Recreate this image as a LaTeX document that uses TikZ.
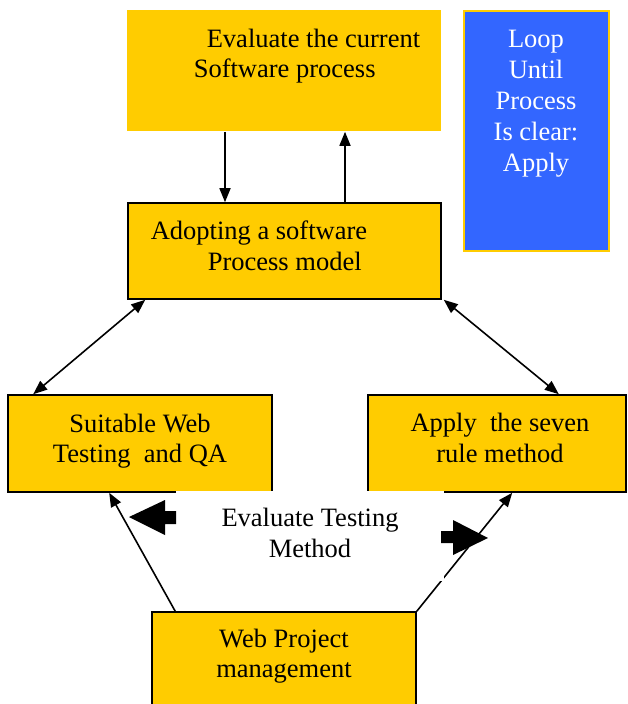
\documentclass[tikz,border=0pt]{standalone}
\usepackage{fontspec}
\setmainfont{Liberation Serif}
\usetikzlibrary{arrows.meta}
\definecolor{boxyellow}{HTML}{FFCC00}
\definecolor{boxblue}{HTML}{3366FF}

\begin{document}
\begin{tikzpicture}[x=1pt,y=-1pt,inner sep=0pt,line width=1.6pt,
  font=\fontsize{26.5}{30.5}\selectfont,
  box/.style={draw=black,fill=boxyellow},
  txt/.style={align=center},
  arr/.style={-{Triangle[length=14pt,width=11pt]}},
  dblarr/.style={{Triangle[length=14pt,width=11pt]}-{Triangle[length=14pt,width=11pt]}}]

\useasboundingbox (0,0) rectangle (627,704);

\node[fill=boxyellow,minimum width=314pt,minimum height=121pt] (eval) at (284,70.5) {};
\node[draw=boxyellow,fill=boxblue,minimum width=145pt,minimum height=240pt] (loop) at (536.5,131) {};
\node[box,minimum width=313pt,minimum height=96pt] (adopt) at (284.5,251) {};
\node[box,minimum width=264pt,minimum height=97pt] (suit) at (140,443.5) {};
\node[box,minimum width=258pt,minimum height=97pt] (apply) at (497,443.5) {};
\node[box,minimum width=264pt,minimum height=100pt] (web) at (284,662) {};

\node[anchor=west,align=left] (evaltxt) at (193,56) {\hspace*{13pt}Evaluate the current\\Software process};
\node[anchor=west,align=left] (adopttxt) at (150,246) {Adopting a software\\\hspace*{57pt}Process model};
\node[txt,text=white,font=\fontsize{26.5}{31}\selectfont] (looptxt) at (536,103.5) {Loop\\Until\\Process\\Is clear:\\Apply};
\node[txt] (suittxt) at (140,441) {Suitable Web\\Testing\ \ and QA};
\node[txt] (applytxt) at (500,438) {Apply\ \ the seven\\rule method};
\node[txt] (webtxt) at (284,656) {Web Project\\management};

\draw[arr] ([xshift=-59pt]eval.south) -- ([xshift=-59.5pt]adopt.north);
\draw[arr] ([xshift=60.5pt]adopt.north) -- ([xshift=61pt]eval.south);
\draw[dblarr] ([xshift=18pt]adopt.south west) -- ([xshift=26pt]suit.north west);
\draw[dblarr] ([xshift=2pt]adopt.south east) -- ([xshift=-68pt]apply.north east);
\draw[arr] ([xshift=24pt]web.north west) -- ([xshift=102pt]suit.south west);
\draw[arr] (web.north east) -- ([xshift=145pt]apply.south west);

\node[txt,fill=white,text depth=6.5pt,minimum width=268pt,minimum height=89.5pt] (testtxt) at (310,536) {Evaluate Testing\\Method};

\fill (176,511) -- (165,511) -- (165,500) -- (129,517) -- (165,535) -- (165,524) -- (176,524) -- cycle;
\fill (441,531) -- (453,531) -- (453,520) -- (488,538) -- (453,555) -- (453,543) -- (441,543) -- cycle;

\end{tikzpicture}
\end{document}
